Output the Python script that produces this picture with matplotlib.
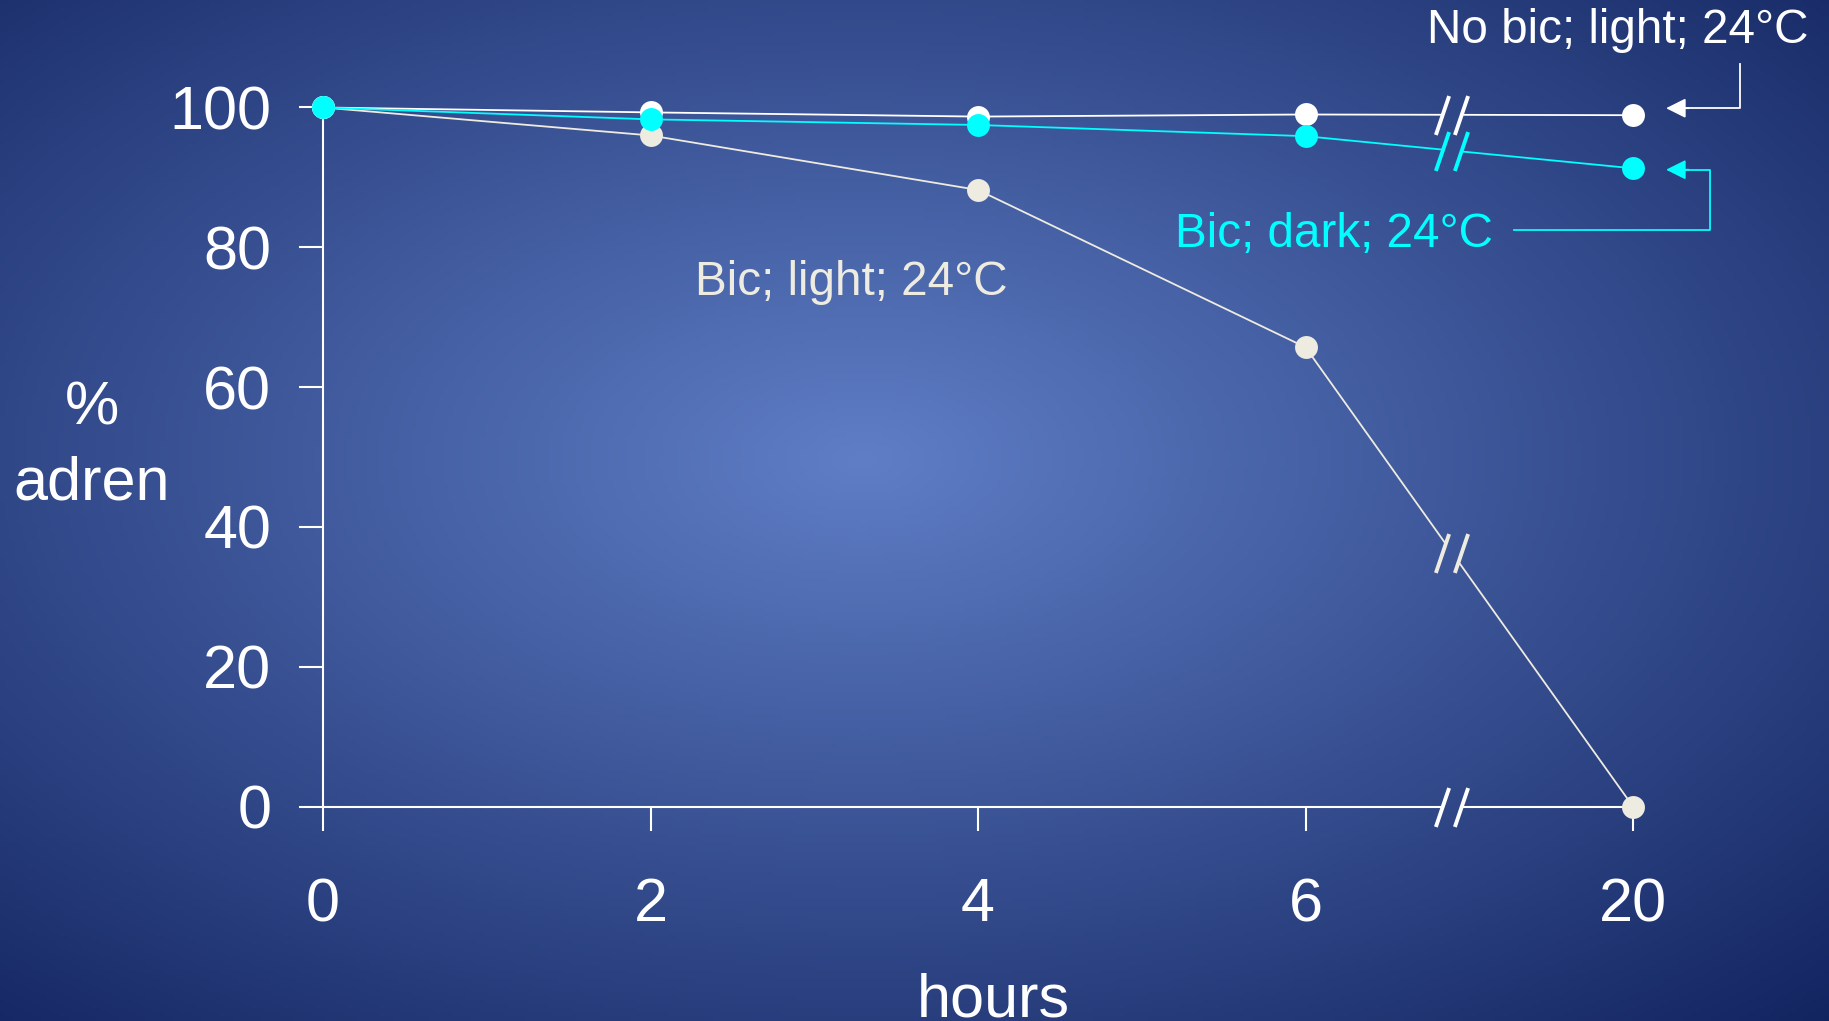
import numpy as np
import matplotlib
matplotlib.use("Agg")
from matplotlib import pyplot as plt
from matplotlib.path import Path

plt.rcParams["font.family"] = ["Liberation Sans", "DejaVu Sans"]

# data
hours = ["0", "2", "4", "6", "20"]
no_bic_light = [100, 99.3, 98.7, 99.0, 98.9]
bic_dark = [100, 98.3, 97.5, 95.9, 91.3]
bic_light = [100, 96.0, 88.2, 65.7, 0.0]
y_ticks = [0, 20, 40, 60, 80, 100]

W, H = 1829, 1021
fig = plt.figure(figsize=(W / 100, H / 100), dpi=100)

# radial background gradient
bg = fig.add_axes([0, 0, 1, 1], zorder=-10)
gx, gy = np.meshgrid(np.linspace(0, 1, 400), np.linspace(0, 1, 240))
r = np.sqrt((gx - 863 / W) ** 2 + (gy - 460 / H) ** 2)
c0 = np.array([95, 126, 198]) / 255
slope = np.array([-100, -117, -133]) / 255
img = np.clip(c0[None, None, :] + slope[None, None, :] * r[:, :, None], 0, 1)
bg.imshow(img, aspect="auto", extent=[0, 1, 1, 0])
bg.axis("off")

x0, x1 = 323, 1633
y0, y1 = 806.5, 107.5
ax = fig.add_axes([x0 / W, 1 - y0 / H, (x1 - x0) / W, (y0 - y1) / H])
ax.set_facecolor("none")
ax.set_xlim(0, 4)
ax.set_ylim(0, 100)

x = np.arange(len(hours))
xb = 3.447  # axis break position
gap = 0.029
slash = Path([(-0.34, -1), (0.34, 1)], [Path.MOVETO, Path.LINETO])
# slash direction in data units (13 px right, 39 px up)
sdx = 13.3 / (x1 - x0) * 4
sdy = 39.0 / (y0 - y1) * 100


def broken_line(vals, color, z):
    vals = np.asarray(vals, dtype=float)
    yb = np.interp(xb, x, vals)
    m = vals[4] - vals[3]
    ends = []
    for xs in (xb - gap, xb + gap):
        t = m * (xs - xb) / (sdy - sdx * m)
        ends.append((xs + sdx * t, yb + sdy * t))
    (xl, yl), (xr, yr) = ends
    ax.plot(list(x[:4]) + [xl], list(vals[:4]) + [yl], color=color,
            lw=1.3, zorder=z, clip_on=False)
    ax.plot([xr, x[4]], [yr, vals[4]], color=color, lw=1.3, zorder=z,
            clip_on=False)
    ax.plot([xb - gap, xb + gap], [yb, yb], ls="none", marker=slash, ms=28,
            mew=2.8, mec=color, zorder=z, clip_on=False)
    ax.plot(x, vals, ls="none", marker="o", ms=16.5, mfc=color, mew=0,
            zorder=z + 0.5, clip_on=False)


# x axis line with break
ax.plot([0, xb - gap], [0, 0], color="white", lw=1.5, clip_on=False, zorder=2)
ax.plot([xb + gap, 4], [0, 0], color="white", lw=1.5, clip_on=False, zorder=2)
ax.plot([xb - gap, xb + gap], [0, 0], ls="none", marker=slash, ms=28,
        mew=2.8, mec="white", clip_on=False, zorder=2)

broken_line(bic_light, "#eeebe0", 3)
broken_line(no_bic_light, "white", 4)
broken_line(bic_dark, "#00ffff", 5)

for s in ["top", "right", "bottom"]:
    ax.spines[s].set_visible(False)
ax.spines["left"].set_color("white")
ax.spines["left"].set_linewidth(1.5)
ax.spines["left"].set_bounds(0, 100)

ax.set_xticks(x)
ax.set_xticklabels(hours)
ax.set_yticks(y_ticks)
ax.tick_params(axis="both", colors="white", labelsize=44, length=17.3,
               width=1.5)
ax.tick_params(axis="x", pad=33.5)
ax.tick_params(axis="y", pad=20)

# labels
ax.text(-0.705, 54.6, "%", color="white", fontsize=44, ha="center",
        va="baseline")
ax.text(-0.705, 43.9, "adren", color="white", fontsize=44, ha="center",
        va="baseline")
ax.text(2.046, -30.0, "hours", color="white", fontsize=44, ha="center",
        va="baseline", clip_on=False)

ax.text(4.537, 109.2, "No bic; light; 24\u00b0C", color="white",
        fontsize=34.3, ha="right", va="baseline")
ax.text(1.136, 73.2, "Bic; light; 24\u00b0C", color="#eeebe0", fontsize=34.3,
        ha="left", va="baseline")
ax.text(2.602, 80.0, "Bic; dark; 24\u00b0C", color="#00ffff", fontsize=34.3,
        ha="left", va="baseline")

# leader lines with arrows
ax.plot([4.327, 4.327, 4.16], [106.2, 99.9, 99.9], color="white", lw=1.3,
        clip_on=False)
ax.annotate("", xy=(4.101, 99.9), xytext=(4.17, 99.9),
            arrowprops=dict(arrowstyle="-|>", color="white", lw=1.3,
                            mutation_scale=30, shrinkA=0, shrinkB=0),
            annotation_clip=False)
ax.plot([3.637, 4.235, 4.235, 4.16], [82.5, 82.5, 91.1, 91.1],
        color="#00ffff", lw=1.3, clip_on=False)
ax.annotate("", xy=(4.101, 91.1), xytext=(4.17, 91.1),
            arrowprops=dict(arrowstyle="-|>", color="#00ffff", lw=1.3,
                            mutation_scale=30, shrinkA=0, shrinkB=0),
            annotation_clip=False)

fig.savefig("out.png", dpi=100)
